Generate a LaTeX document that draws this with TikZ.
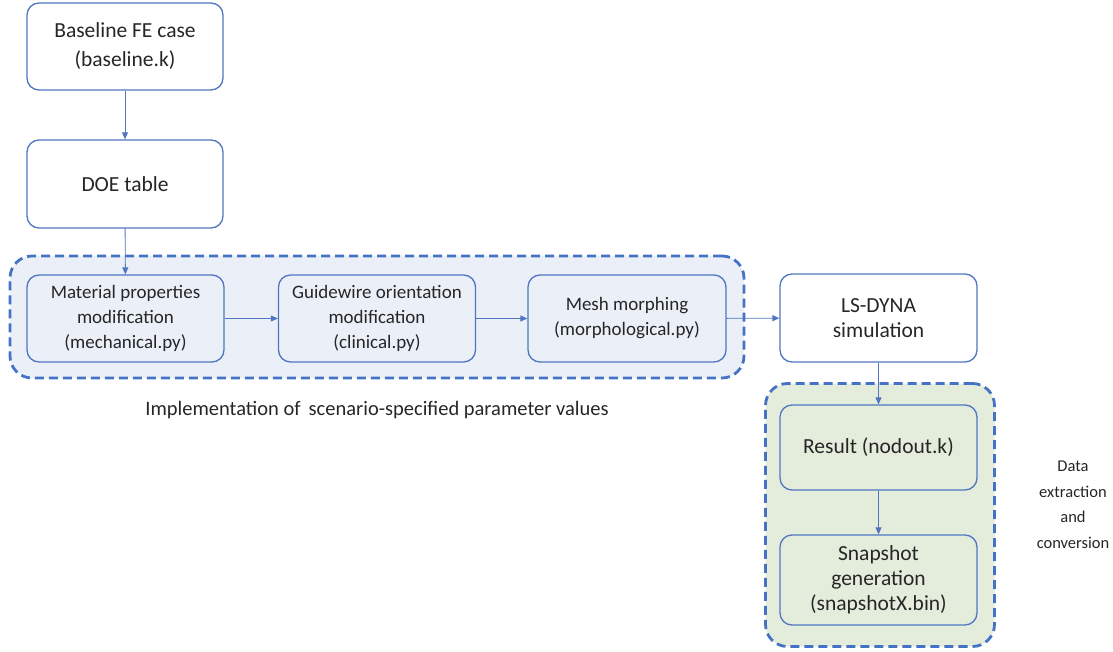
\documentclass[tikz,border=0pt]{standalone}
\usepackage{fontspec}
\setmainfont{Carlito}
\usetikzlibrary{arrows.meta}
\definecolor{bord}{HTML}{5076C2}
\definecolor{dashc}{HTML}{4472C4}
\definecolor{bluef}{HTML}{EBF0F8}
\definecolor{greenf}{HTML}{E4ECDC}
\definecolor{txt}{HTML}{262626}
\begin{document}
\begin{tikzpicture}[x=1pt,y=-1pt,
  box/.style={draw=bord, line width=1.3pt, rounded corners=12pt, align=center,
    inner sep=0pt, text=txt, font=\fontsize{21.5}{25}\selectfont},
  sbox/.style={box, font=\fontsize{19}{25}\selectfont},
  cont/.style={draw=dashc, line width=2.8pt, dash pattern=on 9pt off 5pt,
    rounded corners=22pt, inner sep=0pt},
  arr/.style={draw=bord, line width=0.9pt, -{Triangle[length=7pt,width=6pt]}},
  lab/.style={text=txt, align=center, font=\fontsize{20.5}{25}\selectfont}]
\useasboundingbox (0,0) rectangle (1113,652);

% containers
\node[cont, fill=bluef, minimum width=734pt, minimum height=122pt] (c1) at (377,317) {};
\node[cont, fill=greenf, minimum width=229pt, minimum height=263pt] (c2) at (880,515) {};

% boxes
\node[box, fill=white, minimum width=196pt, minimum height=87pt,
  font=\fontsize{21.5}{29}\selectfont] (base) at (125,46.5)
  {Baseline FE case\\(baseline.k)};
\node[box, fill=white, minimum width=196pt, minimum height=88pt] (doe) at (125,184)
  {DOE table};
\node[sbox, fill=bluef, minimum width=197pt, minimum height=87pt] (mat) at (125.5,318.5)
  {Material properties\\modification\\(mechanical.py)};
\node[sbox, fill=bluef, minimum width=197pt, minimum height=87pt] (gw) at (377,318.5)
  {Guidewire orientation\\modification\\(clinical.py)};
\node[sbox, fill=bluef, minimum width=198pt, minimum height=87pt] (mesh) at (627,318.5)
  {Mesh morphing\\(morphological.py)};
\node[box, fill=white, minimum width=197pt, minimum height=88pt] (dyna) at (878.5,318)
  {LS-DYNA\\simulation};
\node[box, fill=greenf, minimum width=197pt, minimum height=85pt] (res) at (878.5,447.5)
  {Result (nodout.k)};
\node[box, fill=greenf, minimum width=197pt, minimum height=90pt] (snap) at (878.5,580)
  {Snapshot\\generation\\(snapshotX.bin)};

% labels
\node[lab] (impl) at (377,410) {Implementation of\, scenario-specified parameter values};
\node[lab, font=\fontsize{16.5}{25.5}\selectfont] (dext) at (1073,505) {Data\\extraction\\and\\conversion};

% arrows
\draw[arr] (base) -- (doe);
\draw[arr] (doe) -- (mat);
\draw[arr] (mat) -- (gw);
\draw[arr] (gw) -- (mesh);
\draw[arr] (mesh) -- (dyna);
\draw[arr] (dyna) -- (res);
\draw[arr] (res) -- (snap);
\end{tikzpicture}
\end{document}
